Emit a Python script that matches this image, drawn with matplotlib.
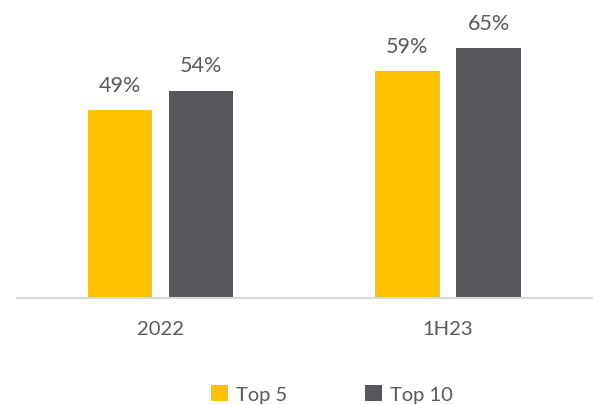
import matplotlib
matplotlib.use("Agg")
import matplotlib.pyplot as plt
import numpy as np
from matplotlib.patches import Patch

categories = ["2022", "1H23"]
series_names = ["Top 5", "Top 10"]
top5 = [49, 59]
top10 = [54, 65]
colors = ["#FFC000", "#56575B"]
text_color = "#595959"

plt.rcParams["font.family"] = ["Lato", "DejaVu Sans"]

W, H = 593, 406
fig = plt.figure(figsize=(W / 100, H / 100), dpi=100)
# plot area in pixel coordinates: left 16.75, right 591.75, baseline at y=299
left_px, right_px = 16.75, 591.75
base_px = 299
ymax = 70
px_per_unit = 3.84
top_px = base_px - ymax * px_per_unit
ax = fig.add_axes([left_px / W, 1 - base_px / H, (right_px - left_px) / W, (base_px - top_px) / H])

x = np.arange(len(categories))
bw = 0.224
gap = 0.059
offsets = [-(bw + gap) / 2, (bw + gap) / 2]
for vals, off, col in zip([top5, top10], offsets, colors):
    bars = ax.bar(x + off, vals, width=bw, color=col, zorder=2)
    for b, v in zip(bars, vals):
        ax.annotate(f"{v}%", (b.get_x() + b.get_width() / 2, v),
                    xytext=(0, 11), textcoords="offset points",
                    ha="center", va="bottom", fontsize=15.5, color=text_color)

ax.set_xlim(-0.5, 1.5)
ax.set_ylim(0, ymax)
ax.set_xticks(x)
ax.set_xticklabels(categories, fontsize=14.5, color=text_color)
ax.tick_params(axis="x", length=0, pad=16)
ax.set_yticks([])
for s in ["top", "right", "left"]:
    ax.spines[s].set_visible(False)
ax.spines["bottom"].set_color("#D9D9D9")
ax.spines["bottom"].set_linewidth(1.5)

handles = [Patch(facecolor=c, edgecolor="none") for c in colors]
leg = fig.legend(handles, series_names, loc="center", bbox_to_anchor=(332 / W, 1 - 395 / H),
                 ncol=2, frameon=False, fontsize=14.5, handlelength=0.8, handleheight=0.8,
                 handletextpad=0.4, columnspacing=3.9)
for t in leg.get_texts():
    t.set_color(text_color)

fig.savefig("out.png", dpi=100)
